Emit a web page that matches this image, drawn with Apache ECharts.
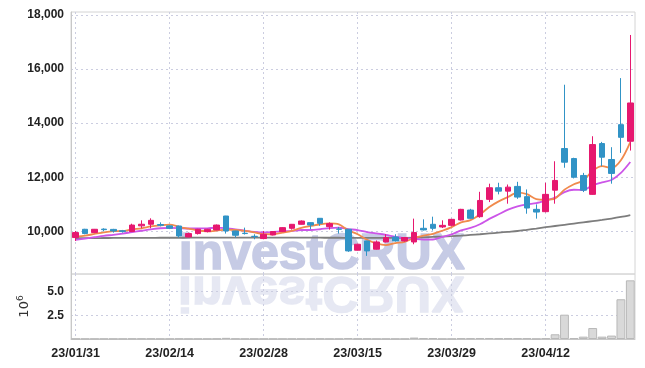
<!DOCTYPE html>
<html><head><meta charset="utf-8">
<script src="https://cdn.jsdelivr.net/npm/echarts@6/dist/echarts.min.js"></script>
<style>html,body{margin:0;padding:0;background:#fff}#c{width:645px;height:368px}</style>
</head><body><div id="c"></div>
<script>
const dates = ['23/01/31','23/02/01','23/02/02','23/02/03','23/02/06','23/02/07','23/02/08','23/02/09','23/02/10','23/02/13',
'23/02/14','23/02/15','23/02/16','23/02/17','23/02/20','23/02/21','23/02/22','23/02/23','23/02/24','23/02/27',
'23/02/28','23/03/02','23/03/03','23/03/06','23/03/07','23/03/08','23/03/09','23/03/10','23/03/13','23/03/14',
'23/03/15','23/03/16','23/03/17','23/03/20','23/03/21','23/03/22','23/03/23','23/03/24','23/03/27','23/03/28',
'23/03/29','23/03/30','23/03/31','23/04/03','23/04/04','23/04/05','23/04/06','23/04/07','23/04/10','23/04/11',
'23/04/12','23/04/13','23/04/14','23/04/17','23/04/18','23/04/19','23/04/20','23/04/21','23/04/24','23/04/25'];
// [open, close, low, high]
const ohlc = [
[9768,9952,9642,10011],[10074,9915,9890,10090],[9952,10074,9940,10085],[10080,10060,10000,10110],[10070,10010,9950,10090],
[10020,9990,9950,10050],[9990,10230,9980,10280],[10200,10260,10110,10405],[10260,10405,10110,10480],[10250,10220,10180,10330],
[10200,10110,10080,10220],[10195,9827,9768,10210],[9790,9915,9780,9950],[9915,10074,9880,10090],[9990,10074,9960,10090],
[10050,10230,10040,10250],[10565,10011,9915,10570],[10011,9853,9768,10020],[9930,9915,9880,10135],[9815,9805,9705,9890],
[9731,9890,9705,10011],[9864,9989,9850,10000],[9989,10135,9970,10150],[10110,10258,10060,10270],[10258,10380,10250,10400],
[10320,10230,10074,10330],[10480,10295,10200,10490],[10170,10283,10060,10330],[10085,10074,9915,10160],[10074,9274,9240,10080],
[9300,9520,9290,9540],[9642,9274,9090,9650],[9336,9605,9320,9660],[9605,9768,9590,9890],[9790,9642,9620,9890],
[9642,9768,9620,9790],[9605,9952,9520,10468],[10110,10050,10030,10442],[10258,10110,10030,10540],[10160,10220,10120,10405],
[10220,10442,10180,10460],[10417,10811,10400,10830],[10785,10480,10460,10830],[10540,11140,10500,11460],[11180,11610,11080,11760],
[11610,11485,11365,11795],[11485,11633,11020,11730],[11660,11265,11200,11830],[11280,10860,10650,11548],[10811,10711,10468,10995],
[10725,11365,10700,11795],[11520,11880,11020,12590],[13060,12555,12350,15420],[12690,12000,11955,12720],[12065,11520,11450,12160],
[11365,13207,11350,13515],[13245,12740,12407,13306],[12655,12140,11760,13110],[13944,13475,12900,15665],[13330,14745,12985,17260]];
const ma5 = [9800,9840,9900,9960,10002,10010,10073,10110,10179,10221,10245,10164,10095,10029,10000,10024,10061,10048,10017,9963,
9895,9890,9947,10015,10130,10198,10260,10289,10252,10031,9889,9685,9549,9488,9562,9611,9747,9836,9904,10020,
10155,10327,10413,10619,10897,11105,11270,11427,11371,11191,11167,11216,11540,11740,11880,12240,12410,12340,12630,13300];
const ma10 = [9680,9730,9780,9830,9870,9915,9970,10020,10070,10112,10127,10119,10103,10104,10111,10135,10113,10072,10023,9981,
9959,9976,9998,10016,10047,10047,10075,10118,10134,10081,10044,9972,9919,9870,9797,9750,9716,9693,9696,9791,
9883,10037,10124,10262,10458,10630,10798,10920,10995,11044,11136,11243,11450,11536,11527,11700,11810,11898,12159,12563];
const ma60 = [9745,9747,9749,9751,9753,9755,9757,9758,9759,9760,9760,9761,9762,9763,9764,9765,9765,9765,9765,9765,
9765,9764,9764,9763,9763,9762,9762,9761,9760,9759,9758,9757,9756,9755,9755,9755,9760,9775,9790,9805,
9820,9840,9865,9890,9920,9950,9980,10010,10055,10100,10150,10195,10240,10285,10330,10375,10420,10470,10530,10600];
const volume = [0.02,0.02,0.02,0.02,0.02,0.02,0.03,0.03,0.03,0.02,0.02,0.03,0.02,0.02,0.02,0.03,0.12,0.03,0.02,0.02,
0.02,0.02,0.02,0.02,0.02,0.02,0.03,0.02,0.02,0.1,0.03,0.03,0.02,0.02,0.02,0.02,0.15,0.08,0.08,0.02,
0.02,0.06,0.06,0.1,0.1,0.06,0.06,0.06,0.06,0.02,0.07,0.5,2.57,0.1,0.25,1.16,0.25,0.36,4.2,6.2];
const priceTicks = [10000,12000,14000,16000,18000];
const volTicks = [2.5,5.0];

const UP='#e6186f', DOWN='#3193c6';
const FONT = "'Liberation Sans',Arial,sans-serif";
const chart = echarts.init(document.getElementById('c'), null, {renderer:'canvas'});
const gridLine = {show:true, lineStyle:{color:'#cbcde0', type:[2,3], width:1}};
const WM = "bold 50px 'Liberation Sans',Arial,sans-serif";
chart.setOption({
  animation:false,
  graphic:[
    {type:'text', left:178, top:229, z:-10, style:{text:'investCRUX', font:WM, fill:'#c6cbe5', stroke:'#c6cbe5', lineWidth:1.5}},
    {type:'text', x:178, y:316, scaleY:-1, z:-10, style:{text:'investCRUX', font:WM, fill:'#e6e8f3', stroke:'#e6e8f3', lineWidth:1.5}}
  ],
  grid:[
    {left:71, width:564, top:12, height:262, show:true, borderColor:'#d4d4d4', borderWidth:1},
    {left:71, width:564, top:274, height:65, show:true, borderColor:'#d4d4d4', borderWidth:1}
  ],
  xAxis:[
    {type:'category', gridIndex:0, data:dates, boundaryGap:true,
     axisLine:{show:false}, axisTick:{show:false}, axisLabel:{show:false},
     splitLine:Object.assign({interval:9, alignWithLabel:true}, gridLine)},
    {type:'category', gridIndex:1, data:dates, boundaryGap:true,
     axisLine:{show:true, lineStyle:{color:'#c8c8c8'}}, axisTick:{show:false},
     axisLabel:{interval:9, color:'#222', fontFamily:FONT, fontWeight:'bold', fontSize:12.5, margin:8},
     splitLine:Object.assign({interval:9, alignWithLabel:true}, gridLine)}
  ],
  yAxis:[
    {type:'value', gridIndex:0, min:8420, max:18110,
     axisLine:{show:true, lineStyle:{color:'#c8c8c8'}},
     axisTick:{show:false, customValues:priceTicks},
     axisLabel:{customValues:priceTicks, color:'#222', fontFamily:FONT, fontWeight:'bold', fontSize:12, margin:7},
     splitLine:gridLine},
    {type:'value', gridIndex:1, min:0, max:6.87,
     name:'10{s|6}', nameLocation:'middle', nameRotate:90, nameGap:38,
     nameTextStyle:{color:'#333', fontSize:13, fontFamily:"'DejaVu Sans',sans-serif", rich:{s:{fontSize:9, verticalAlign:'top', padding:[0,0,8,0]}}},
     axisLine:{show:true, lineStyle:{color:'#c8c8c8'}},
     axisTick:{show:false, customValues:volTicks},
     axisLabel:{customValues:volTicks, formatter:v=>v.toFixed(1), color:'#222', fontFamily:FONT, fontWeight:'bold', fontSize:12, margin:7},
     splitLine:gridLine}
  ],
  series:[
    {type:'candlestick', xAxisIndex:0, yAxisIndex:0, data:ohlc, barWidth:'66%', z:3,
     itemStyle:{color:UP, color0:DOWN, borderColor:UP, borderColor0:DOWN, borderWidth:1}},
    {type:'line', xAxisIndex:0, yAxisIndex:0, data:ma60, showSymbol:false, smooth:0.3, z:2,
     lineStyle:{color:'#7d7d7d', width:1.8}},
    {type:'line', xAxisIndex:0, yAxisIndex:0, data:ma10, showSymbol:false, smooth:0.3, z:2,
     lineStyle:{color:'#cc55e8', width:1.8}},
    {type:'line', xAxisIndex:0, yAxisIndex:0, data:ma5, showSymbol:false, smooth:0.3, z:2,
     lineStyle:{color:'#f08a4c', width:1.8}},
    {type:'bar', xAxisIndex:1, yAxisIndex:1, data:volume, barCategoryGap:'6%',
     itemStyle:{color:'#d9d9d9', borderColor:'#b8b8b8', borderWidth:1}}
  ]
});
</script></body></html>
